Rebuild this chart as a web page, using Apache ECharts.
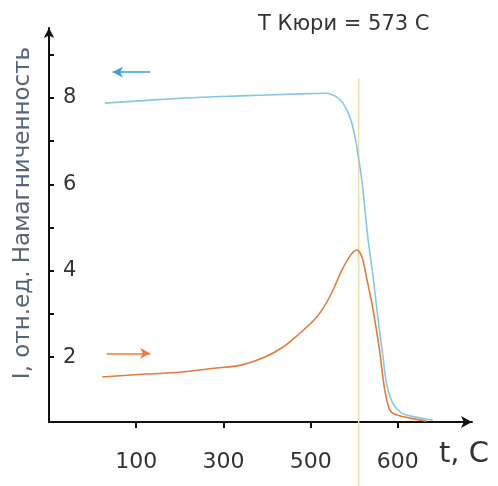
<!DOCTYPE html>
<html>
<head>
<meta charset="utf-8">
<script src="https://cdn.jsdelivr.net/npm/echarts@6/dist/echarts.min.js"></script>
<style>html,body{margin:0;padding:0;background:#fff}#c{width:498px;height:486px}</style>
</head>
<body>
<div id="c"></div>
<script>
// x values are in tick-position units (tick k carries label tickLabels[k-1])
var tickPositions = [1, 2, 3, 4];
var tickLabels = ['100', '300', '500', '600'];
var yTickValues = [2, 3, 4, 5, 6, 7, 8, 9];
var yLabelValues = [2, 4, 6, 8];

var blueX = [0.64, 1.56, 2.19, 2.80, 3.18, 3.30, 3.37, 3.45, 3.51, 3.55, 3.59, 3.62, 3.65, 3.69, 3.72, 3.77, 3.83, 3.87, 3.94, 4.05, 4.22, 4.40];
var blueY = [7.88, 8.00, 8.05, 8.09, 8.11, 8.02, 7.88, 7.56, 7.09, 6.60, 6.05, 5.47, 4.87, 4.25, 3.80, 2.93, 2.00, 1.40, 0.94, 0.70, 0.61, 0.54];

var orangeX = [0.61, 1.12, 1.50, 1.92, 2.19, 2.45, 2.68, 2.88, 3.02, 3.12, 3.24, 3.35, 3.45, 3.53, 3.59, 3.64, 3.71, 3.79, 3.85, 3.91, 3.99, 4.14, 4.33];
var orangeY = [1.54, 1.61, 1.65, 1.75, 1.81, 1.98, 2.23, 2.56, 2.82, 3.06, 3.48, 3.98, 4.34, 4.48, 4.31, 3.85, 3.16, 2.16, 1.24, 0.77, 0.66, 0.59, 0.52];

var curieX = [3.55, 3.55];
var curieY = [8.46, -1.0];

var blueArrowX = [1.16, 0.73];
var blueArrowY = [8.60, 8.60];
var orangeArrowX = [0.66, 1.16];
var orangeArrowY = [2.09, 2.09];

function pairs(xs, ys) { return xs.map(function (x, i) { return [x, ys[i]]; }); }

var chart = echarts.init(document.getElementById('c'), null, { renderer: 'canvas' });
var font = 'DejaVu Sans';
chart.setOption({
  animation: false,
  backgroundColor: '#ffffff',
  title: {
    text: 'T Кюри = 573 C',
    left: 253, top: 9,
    textStyle: { fontFamily: font, fontSize: 21, fontWeight: 'normal', color: '#333333' }
  },
  graphic: [
    { type: 'text', left: 439, top: 440, style: { text: 't, C', fontFamily: font, fontSize: 29, fill: '#333333' }, silent: true }
  ],
  grid: { left: 49, right: 26, top: 28, bottom: 64, containLabel: false, outerBoundsMode: 'none' },
  xAxis: {
    type: 'value', min: 0, max: 4.85,
    axisLine: { show: true, onZero: false, lineStyle: { color: '#111', width: 2 }, symbol: ['none', 'arrow'], symbolSize: [9, 11] },
    axisTick: { show: true, inside: false, length: 6, lineStyle: { color: '#111', width: 2 }, customValues: tickPositions },
    axisLabel: {
      show: true, margin: 29, fontFamily: font, fontSize: 22, color: '#333333',
      customValues: tickPositions,
      formatter: function (v) { var i = tickPositions.indexOf(Math.round(v)); return i >= 0 ? tickLabels[i] : ''; }
    },
    splitLine: { show: false }
  },
  yAxis: {
    type: 'value', min: 0.5, max: 9.62,
    name: 'I, отн.ед. Намагниченность', nameLocation: 'middle', nameRotate: 90, nameGap: 14,
    nameTextStyle: { fontFamily: font, fontSize: 23, color: '#55657a', padding: [0, 0, 0, 24] },
    axisLine: { show: true, lineStyle: { color: '#111', width: 2 }, symbol: ['none', 'arrow'], symbolSize: [8, 10] },
    axisTick: { show: true, inside: true, length: 5, lineStyle: { color: '#111', width: 2 }, customValues: yTickValues },
    axisLabel: { show: true, inside: true, margin: 14, fontFamily: font, fontSize: 21, color: '#333333', customValues: yLabelValues },
    splitLine: { show: false }
  },
  series: [
    {
      type: 'line', data: pairs(curieX, curieY), clip: false, showSymbol: false, symbol: 'none',
      lineStyle: { color: '#f0dca8', width: 1.5 }, silent: true, z: 1
    },
    {
      type: 'line', data: pairs(blueX, blueY), smooth: 0.3, showSymbol: false, symbol: 'none',
      lineStyle: { color: '#86c8e2', width: 1.6 }, silent: true, z: 2
    },
    {
      type: 'line', data: pairs(orangeX, orangeY), smooth: 0.3, showSymbol: false, symbol: 'none',
      lineStyle: { color: '#e07d3c', width: 1.6 }, silent: true, z: 3
    },
    {
      type: 'line', data: [], silent: true,
      markLine: {
        silent: true, symbol: ['none', 'arrow'], symbolSize: [8, 10], label: { show: false },
        lineStyle: { type: 'solid', width: 1.6 },
        data: [
          [{ coord: [blueArrowX[0], blueArrowY[0]], lineStyle: { color: '#3a9fd6' } }, { coord: [blueArrowX[1], blueArrowY[1]] }],
          [{ coord: [orangeArrowX[0], orangeArrowY[0]], lineStyle: { color: '#e8803a' } }, { coord: [orangeArrowX[1], orangeArrowY[1]] }]
        ]
      }
    }
  ]
});
</script>
</body>
</html>
